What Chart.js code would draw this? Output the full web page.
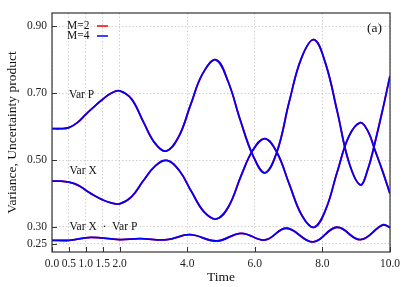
<!DOCTYPE html>
<html>
<head>
<meta charset="utf-8">
<script src="https://cdn.jsdelivr.net/npm/chart.js@4"></script>
<style>
  html, body { margin: 0; padding: 0; background: #fff; }
  #wrap { width: 409px; height: 287px; }
</style>
</head>
<body>
<div id="wrap"><canvas id="chart" width="409" height="287"></canvas></div>
<script>
const timeP = [0, 0.25, 0.5, 0.75, 1.0, 1.25, 1.5, 1.75, 2.0, 2.35, 2.7, 3.05, 3.38, 3.75, 4.1, 4.45, 4.85, 5.21, 5.57, 5.94, 6.3, 6.66, 7.02, 7.38, 7.75, 8.09, 8.44, 8.78, 9.12, 9.35, 9.54, 9.79, 10.0];
const varP = [0.594, 0.594, 0.597, 0.612, 0.637, 0.660, 0.682, 0.700, 0.707, 0.683, 0.615, 0.550, 0.527, 0.570, 0.665, 0.757, 0.800, 0.735, 0.620, 0.515, 0.462, 0.526, 0.675, 0.805, 0.860, 0.790, 0.645, 0.495, 0.426, 0.474, 0.546, 0.654, 0.752];

const timeX = [0, 0.25, 0.5, 0.75, 1.0, 1.25, 1.5, 1.75, 2.0, 2.35, 2.7, 3.05, 3.4, 3.77, 4.13, 4.5, 4.87, 5.23, 5.59, 5.94, 6.3, 6.66, 7.02, 7.39, 7.75, 8.09, 8.44, 8.78, 9.12, 9.35, 9.54, 9.79, 10.0];
const varX = [0.437, 0.437, 0.434, 0.426, 0.410, 0.394, 0.381, 0.372, 0.369, 0.390, 0.438, 0.482, 0.499, 0.468, 0.405, 0.345, 0.324, 0.362, 0.452, 0.529, 0.564, 0.522, 0.428, 0.335, 0.299, 0.350, 0.465, 0.570, 0.612, 0.586, 0.534, 0.464, 0.399];

const timeProd = [0, 0.5, 1.15, 2.0, 2.6, 3.4, 4.08, 4.87, 5.6, 6.3, 6.94, 7.72, 8.43, 9.12, 9.79, 10.0];
const varProd = [0.260, 0.260, 0.269, 0.262, 0.265, 0.262, 0.277, 0.258, 0.281, 0.261, 0.296, 0.255, 0.299, 0.262, 0.306, 0.298];

const xTicks = [0, 0.5, 1.0, 1.5, 2.0, 4.0, 6.0, 8.0, 10.0];
const yTicks = [0.25, 0.30, 0.50, 0.70, 0.90];

const seriesNames = ['M=2', 'M=4'];
const seriesColors = ['#ff0000', '#0000ff'];

// curve labels, placed in data units
const curveLabels = [
  { text: 'Var P', t: 0.5, v: 0.695 },
  { text: 'Var X', t: 0.52, v: 0.466 },
  { text: 'Var X  \u00b7  Var P', t: 0.52, v: 0.300 }
];

const serif = '"Liberation Serif", "DejaVu Serif", serif';

function toPoints(times, values) {
  return times.map((t, i) => ({ x: t, y: values[i] }));
}

function makeDataset(label, color, times, values, order) {
  return {
    label: label,
    data: toPoints(times, values),
    borderColor: color,
    backgroundColor: color,
    borderWidth: 1.8,
    pointRadius: 0,
    tension: 0.4,
    fill: false,
    order: order
  };
}

const datasets = [];
[1, 0].forEach(s => {
  const order = s === 1 ? 0 : 1;
  datasets.push(makeDataset(seriesNames[s], seriesColors[s], timeP, varP, order));
  datasets.push(makeDataset(seriesNames[s], seriesColors[s], timeX, varX, order));
  datasets.push(makeDataset(seriesNames[s], seriesColors[s], timeProd, varProd, order));
});

const decorPlugin = {
  id: 'decor',
  afterDraw(chart) {
    const ctx = chart.ctx;
    const area = chart.chartArea;
    const xs = chart.scales.x;
    const ys = chart.scales.y;

    ctx.save();

    // inward tick marks
    ctx.strokeStyle = '#333';
    ctx.lineWidth = 1;
    ctx.beginPath();
    xTicks.forEach(t => {
      const px = Math.round(xs.getPixelForValue(t)) + 0.5;
      ctx.moveTo(px, area.bottom);
      ctx.lineTo(px, area.bottom - 5);
    });
    yTicks.forEach(v => {
      const py = Math.round(ys.getPixelForValue(v)) + 0.5;
      ctx.moveTo(area.left, py);
      ctx.lineTo(area.left + 5, py);
    });
    ctx.stroke();

    // frame
    ctx.strokeStyle = '#333';
    ctx.lineWidth = 1.2;
    ctx.strokeRect(area.left, area.top, area.right - area.left, area.bottom - area.top);

    // legend: text then a short line sample
    ctx.font = '11.5px ' + serif;
    ctx.textBaseline = 'middle';
    ctx.textAlign = 'left';
    seriesNames.forEach((name, i) => {
      const y = area.top + 13 + i * 10;
      ctx.fillStyle = '#111';
      ctx.fillText(name, area.left + 15, y);
      ctx.strokeStyle = seriesColors[i];
      ctx.lineWidth = 1.5;
      ctx.beginPath();
      ctx.moveTo(area.left + 45, y);
      ctx.lineTo(area.left + 56, y);
      ctx.stroke();
    });

    // curve labels
    ctx.fillStyle = '#111';
    ctx.font = '11.5px ' + serif;
    curveLabels.forEach(l => {
      ctx.fillText(l.text, xs.getPixelForValue(l.t), ys.getPixelForValue(l.v));
    });

    // panel tag
    ctx.font = '13.5px ' + serif;
    ctx.textAlign = 'right';
    ctx.fillText('(a)', area.right - 8, area.top + 15);

    ctx.restore();
  }
};

new Chart(document.getElementById('chart'), {
  type: 'line',
  data: { datasets: datasets },
  plugins: [decorPlugin],
  options: {
    responsive: false,
    animation: false,
    layout: { padding: { top: 13, right: 19, left: 0, bottom: 0 } },
    plugins: {
      legend: { display: false },
      tooltip: { enabled: false }
    },
    scales: {
      x: {
        type: 'linear',
        min: 0,
        max: 10,
        afterBuildTicks: scale => { scale.ticks = xTicks.map(v => ({ value: v })); },
        afterFit: scale => { scale.height = 35; },
        ticks: {
          autoSkip: false,
          maxRotation: 0,
          padding: 5,
          color: '#222',
          font: { family: serif, size: 11.5 },
          callback: v => Number(v).toFixed(1)
        },
        grid: { color: '#c4c4c4', lineWidth: 0.8, drawTicks: false },
        border: { display: false, dash: [1.5, 2] },
        title: {
          display: true,
          text: 'Time',
          color: '#111',
          font: { family: serif, size: 13.5 },
          padding: { top: 0, bottom: 1 }
        }
      },
      y: {
        type: 'linear',
        min: 0.225,
        max: 0.94,
        afterBuildTicks: scale => { scale.ticks = yTicks.map(v => ({ value: v })); },
        afterFit: scale => { scale.width = 52; },
        ticks: {
          autoSkip: false,
          padding: 5,
          color: '#222',
          font: { family: serif, size: 11.5 },
          callback: v => Number(v).toFixed(2)
        },
        grid: { color: '#c4c4c4', lineWidth: 0.8, drawTicks: false },
        border: { display: false, dash: [1.5, 2] },
        title: {
          display: true,
          text: 'Variance, Uncertainty product',
          color: '#111',
          font: { family: serif, size: 13.5 },
          padding: { top: 4, bottom: 0 }
        }
      }
    }
  }
});
</script>
</body>
</html>
